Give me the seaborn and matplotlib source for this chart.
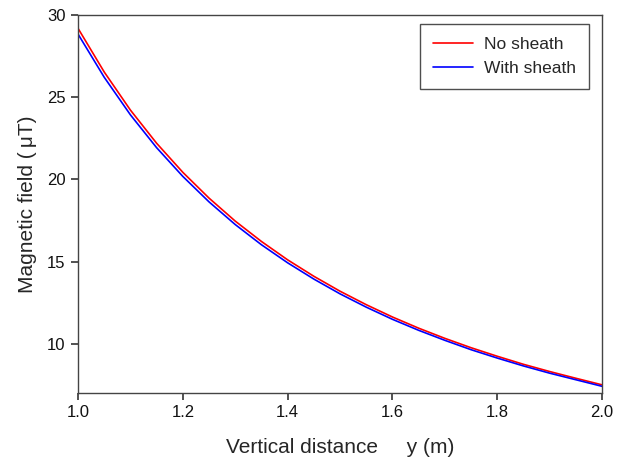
import numpy as np
import pandas as pd
import matplotlib
matplotlib.use("Agg")
import matplotlib.pyplot as plt
import seaborn as sns

# vertical distance y (m)
distance = [1.00, 1.05, 1.10, 1.15, 1.20, 1.25, 1.30, 1.35, 1.40, 1.45, 1.50,
            1.55, 1.60, 1.65, 1.70, 1.75, 1.80, 1.85, 1.90, 1.95, 2.00]
# magnetic field (uT)
no_sheath = [29.20, 26.54, 24.22, 22.20, 20.43, 18.86, 17.46, 16.22, 15.10, 14.10, 13.19,
             12.37, 11.62, 10.94, 10.32, 9.75, 9.23, 8.74, 8.30, 7.89, 7.49]
with_sheath = [28.85, 26.22, 23.93, 21.93, 20.18, 18.63, 17.25, 16.02, 14.92, 13.93, 13.03,
               12.22, 11.48, 10.81, 10.20, 9.63, 9.12, 8.64, 8.20, 7.80, 7.40]

df = pd.DataFrame({
    "y": distance * 2,
    "B": no_sheath + with_sheath,
    "case": ["No sheath"] * len(distance) + ["With sheath"] * len(distance),
})

sns.set_style("ticks")
plt.rcParams["font.family"] = ["Liberation Sans", "DejaVu Sans"]
plt.rcParams["xtick.major.size"] = 5
plt.rcParams["ytick.major.size"] = 5

fig = plt.figure(figsize=(6.24, 4.59), dpi=100)
ax = fig.add_axes([0.125, 0.144, 0.84, 0.823])

sns.lineplot(data=df, x="y", y="B", hue="case",
             palette={"No sheath": "#ff0000", "With sheath": "#0000ff"},
             linewidth=1.2, ax=ax)

ax.set_xlim(1.0, 2.0)
ax.set_ylim(7, 30)
ax.set_xticks([1.0, 1.2, 1.4, 1.6, 1.8, 2.0])
ax.set_yticks([10, 15, 20, 25, 30])
ax.set_xticklabels(["1.0", "1.2", "1.4", "1.6", "1.8", "2.0"])
ax.tick_params(axis="both", which="major", direction="out", length=5, width=1.1,
               color="#222222", labelcolor="#111111", labelsize=12,
               bottom=True, left=True, top=False, right=False, pad=4)

for s in ax.spines.values():
    s.set_color("#444444")
    s.set_linewidth(1.0)

ax.set_xlabel("Vertical distance     y (m)", fontsize=15, labelpad=13)
ax.set_ylabel("Magnetic field (\u2009\u03bcT)", fontsize=15, labelpad=7)

leg = ax.legend(loc="upper right", bbox_to_anchor=(0.975, 0.976), fontsize=12.5,
                frameon=True, fancybox=False, handlelength=2.3, borderpad=0.75,
                labelspacing=0.5, handletextpad=0.65, borderaxespad=0)
leg.get_frame().set_edgecolor("#222222")
leg.get_frame().set_linewidth(1.0)

fig.savefig("out.png", dpi=100)
